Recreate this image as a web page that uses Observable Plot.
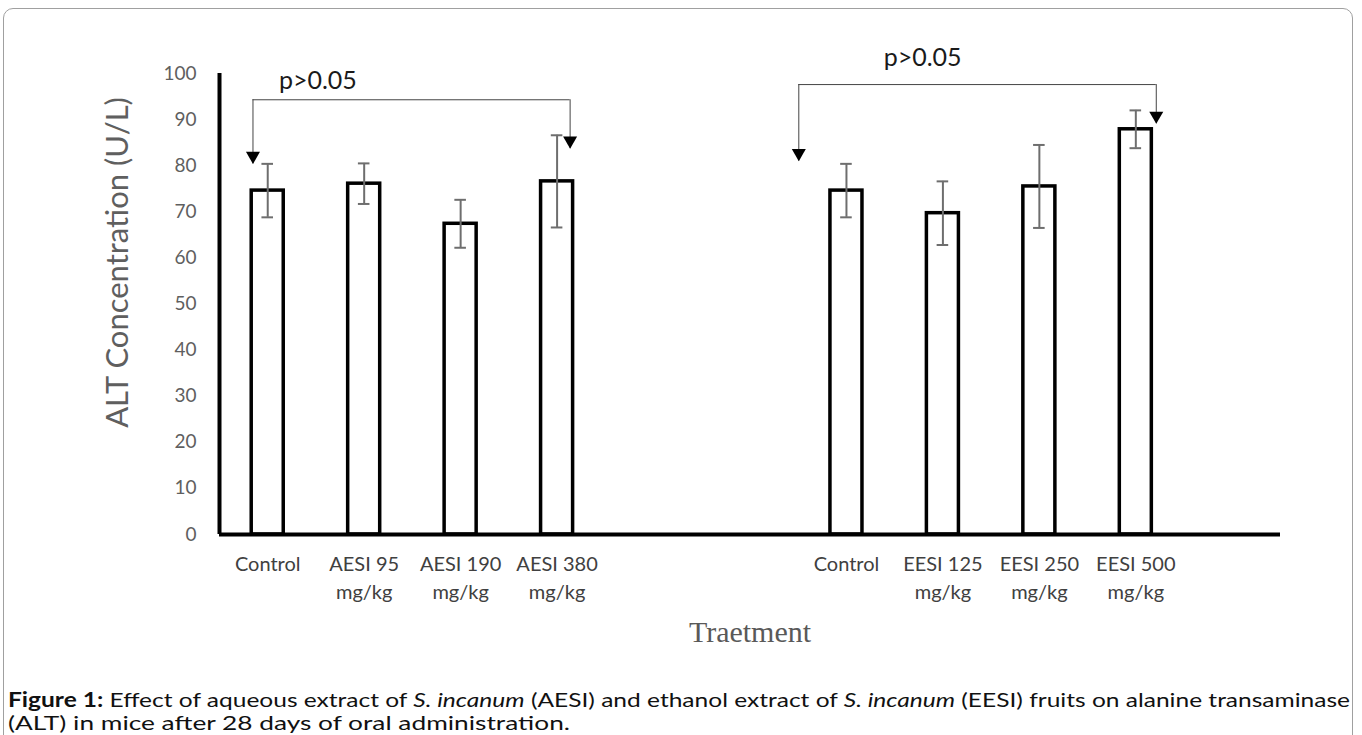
<!DOCTYPE html>
<html><head><meta charset="utf-8">
<script src="https://cdn.jsdelivr.net/npm/d3@7"></script>
<script src="https://cdn.jsdelivr.net/npm/@observablehq/plot@0.6"></script>
<style>
html,body{margin:0;padding:0;background:#fff;}
body{width:1362px;height:735px;overflow:hidden;position:relative;font-family:Lato,sans-serif;}
#frame{position:absolute;left:3px;top:8px;width:1348px;height:780px;border:1px solid #a0a0a0;border-radius:10px;}
#chart{position:absolute;left:0;top:0;}
#caption{position:absolute;left:8px;top:688px;font-size:20px;line-height:23px;color:#111;font-family:Lato,sans-serif;}
.line{display:block;white-space:nowrap;width:max-content;transform-origin:0 0;}
</style></head><body>
<div id="frame"></div>
<div id="chart"></div>
<div id="caption"><span class="line" id="l1"><b>Figure 1:</b> Effect of aqueous extract of <i>S. incanum</i> (AESI) and ethanol extract of <i>S. incanum</i> (EESI) fruits on alanine transaminase</span><span class="line" id="l2">(ALT) in mice after 28 days of oral administration.</span></div>
<script>
// ---- data ----
const treatments = ["Control", "AESI 95\nmg/kg", "AESI 190\nmg/kg", "AESI 380\nmg/kg",
                    "Control", "EESI 125\nmg/kg", "EESI 250\nmg/kg", "EESI 500\nmg/kg"];
const slots = [0, 1, 2, 3, 6, 7, 8, 9];          // category slot on the x axis (gaps at 4,5,10)
const means = [74.6, 76.1, 67.4, 76.6, 74.6, 69.7, 75.5, 87.9];
const errors = [5.8, 4.4, 5.2, 10.0, 5.8, 6.9, 9.0, 4.1];
const yTicks = [0, 10, 20, 30, 40, 50, 60, 70, 80, 90, 100];
const yLabel = "ALT Concentration (U/L)";
const xLabel = "Traetment";
// significance brackets (slot units, value units)
const brackets = [
  {x1: -0.153, x2: 3.135, y: 94.3, tip1: 80.4, tip2: 83.7, label: "p>0.05", lx: 0.52, ly: 96.7},
  {x1: 5.506, x2: 9.212, y: 97.6, tip1: 81.0, tip2: 89.1, label: "p>0.05", lx: 6.79, ly: 101.7}
];

const rows = treatments.map((name, i) => ({name, slot: slots[i], mean: means[i], err: errors[i]}));
const tips = brackets.flatMap(b => [{x: b.x1, y: b.tip1, top: b.y}, {x: b.x2, y: b.tip2, top: b.y}]);

const hw = 0.166, cap = 0.06;
const chart = Plot.plot({
  width: 1362, height: 660,
  marginTop: 73, marginBottom: 126, marginLeft: 219, marginRight: 82,
  style: {fontFamily: "Lato, sans-serif", background: "transparent"},
  x: {type: "linear", domain: [-0.5, 10.5], axis: null},
  y: {domain: [0, 100], axis: null},
  marks: [
    Plot.axisY({ticks: yTicks, tickSize: 0, tickPadding: 23, fontSize: 19, fill: "#5f5f5f", label: null, tickFormat: d => d}),
    Plot.rectY(rows, {x1: d => d.slot - hw, x2: d => d.slot + hw, y1: 0, y2: "mean", fill: "white", stroke: "black", strokeWidth: 3.5}),
    Plot.ruleX(rows, {x: "slot", y1: d => d.mean - d.err, y2: d => d.mean + d.err, stroke: "#6e6e6e", strokeWidth: 2}),
    Plot.ruleY(rows, {y: d => d.mean + d.err, x1: d => d.slot - cap, x2: d => d.slot + cap, stroke: "#6e6e6e", strokeWidth: 2}),
    Plot.ruleY(rows, {y: d => d.mean - d.err, x1: d => d.slot - cap, x2: d => d.slot + cap, stroke: "#6e6e6e", strokeWidth: 2}),
    Plot.ruleY([0], {stroke: "black", strokeWidth: 4}),
    Plot.ruleX([-0.5], {y1: 0, y2: 100, stroke: "black", strokeWidth: 4}),
    Plot.text(rows, {x: "slot", y: 0, text: "name", dy: 16, lineAnchor: "top", fontSize: 20, lineHeight: 1.42, fill: "#404040"}),
    Plot.text([yLabel], {x: -0.5, y: 59, text: d => d, dx: -101, rotate: -90, fontSize: 31, fill: "#5f5f5f"}),
    Plot.text([xLabel], {x: 5, frameAnchor: "bottom", text: d => d, dy: 107, lineAnchor: "bottom", fontSize: 30, fill: "#595959", fontFamily: "'Liberation Serif', serif"}),
    // brackets
    Plot.ruleY(brackets, {y: "y", x1: "x1", x2: "x2", stroke: "#444", strokeWidth: 1}),
    Plot.ruleX(tips, {x: "x", y1: "top", y2: "y", stroke: "#444", strokeWidth: 1}),
    Plot.dot(tips, {x: "x", y: "y", symbol: "triangle2", r: 6.7, rotate: 180, dy: -8, fill: "black", stroke: "none"}),
    Plot.text(brackets, {x: "lx", y: "ly", text: "label", lineAnchor: "bottom", fontSize: 25, fill: "#1a1a1a"})
  ]
});
document.getElementById("chart").appendChild(chart);

// fit caption lines to the reference widths
function fit(id, w) {
  const el = document.getElementById(id);
  const cur = el.getBoundingClientRect().width;
  el.style.transform = `scaleX(${w / cur})`;
}
fit("l1", 1342);
fit("l2", 562);
</script>
</body></html>
